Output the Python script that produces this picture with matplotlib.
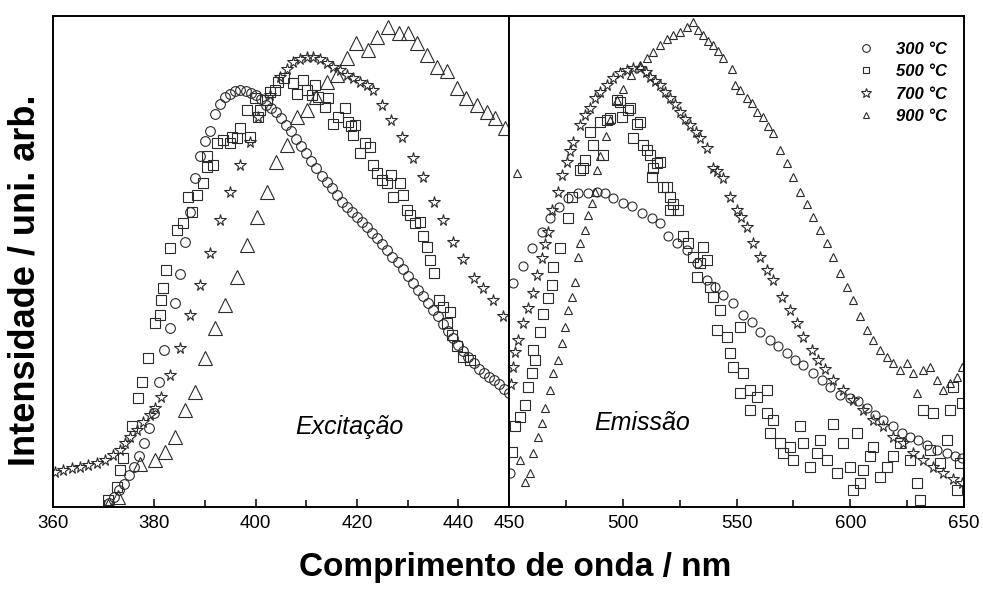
import numpy as np
import matplotlib
matplotlib.use("Agg")
import matplotlib.pyplot as plt
from matplotlib.lines import Line2D

plt.rcParams["font.family"] = ["Liberation Sans", "DejaVu Sans"]

temps = ["300 °C", "500 °C", "700 °C", "900 °C"]

# --- excitation spectra, 360-450 nm (intensity in arbitrary units, 0-100) ---
exc_300_nm = np.arange(371, 451)
exc_300_int = [0.9, 2.1, 3.5, 4.7, 6.5, 8.1, 10.3, 13.0, 16.0, 19.1,
               25.5, 32.0, 36.5, 41.5, 47.5, 54.0, 60.0, 67.0, 71.5, 74.5,
               76.5, 80.0, 82.0, 83.5, 84.2, 84.8, 85.0, 84.8, 84.3, 84.0,
               83.0, 81.8, 81.2, 80.5, 79.3, 77.8, 76.5, 75.0, 73.5, 72.0,
               70.5, 69.0, 67.5, 66.2, 65.0, 63.5, 62.2, 61.0, 60.0, 59.0,
               58.0, 57.0, 55.8, 54.8, 53.5, 52.3, 51.0, 49.8, 48.5, 47.0,
               45.7, 44.2, 43.0, 41.5, 40.2, 38.8, 37.2, 35.8, 34.4, 33.0,
               31.8, 30.5, 29.3, 28.2, 27.2, 26.5, 25.8, 25.0, 24.0, 23.2]

exc_500 = [(370.9, 1.4), (372.6, 4.1), (373.2, 7.5), (373.9, 9.9), (375.5, 16.4),
           (376.8, 22.1), (377.5, 25.5), (378.8, 30.3), (380.1, 37.4), (381.1, 39.1),
           (381.4, 42.2), (381.8, 44.5), (382.4, 48.3), (383.1, 52.7), (384.4, 56.4),
           (385.7, 57.8), (387.4, 60.1), (386.7, 63.2), (388.4, 63.5), (389.7, 65.9),
           (390.3, 69.3), (391.6, 69.7), (390.3, 71.4), (392.3, 74.1), (393.6, 74.7),
           (394.9, 74.1), (395.3, 75.4), (396.3, 75.1), (396.9, 77.1), (398.2, 80.9),
           (398.9, 75.4), (399.9, 83.2), (400.5, 79.5), (400.9, 80.9), (402.2, 82.9),
           (402.8, 84.6), (403.8, 84.9), (404.5, 86.6), (405.5, 87.3), (407.4, 86.3),
           (408.1, 84.2), (409.4, 87.0), (410.1, 84.9), (411.1, 83.9), (411.7, 85.9),
           (412.4, 83.6), (413.7, 81.5), (414.3, 83.2), (415.3, 78.1), (416.3, 79.5),
           (417.6, 81.2), (418.3, 78.5), (418.9, 77.5), (419.6, 77.8), (419.3, 75.8),
           (420.6, 72.0), (421.6, 74.1), (422.6, 73.4), (423.2, 69.7), (423.9, 68.0),
           (424.9, 66.6), (425.9, 65.9), (426.8, 67.6), (427.2, 63.2), (428.5, 65.9),
           (429.1, 63.5), (429.8, 60.5), (430.5, 59.5), (431.4, 57.8), (432.4, 58.1),
           (433.1, 55.1), (433.8, 53.0), (434.4, 50.3), (435.1, 47.6), (436.1, 42.2),
           (437.0, 40.8), (438.4, 39.8), (437.7, 37.4), (438.7, 35.0), (439.7, 32.7),
           (441.0, 30.6), (442.3, 29.9)]

exc_700 = [(360.4, 7.2), (362.0, 7.5), (363.7, 7.9), (365.3, 8.2), (367.0, 8.6),
           (368.6, 8.9), (370.3, 9.6), (371.9, 10.6), (373.2, 11.6), (374.2, 13.0),
           (375.2, 14.3), (376.5, 15.7), (377.8, 17.4), (379.1, 18.7), (380.1, 20.1),
           (381.4, 22.5), (383.1, 26.9), (385.1, 32.3), (387.0, 39.1), (389.0, 45.2),
           (391.0, 51.7), (393.0, 58.5), (394.9, 64.2), (396.9, 69.7), (398.9, 74.4),
           (400.5, 79.5), (402.8, 83.9), (404.8, 87.6), (406.1, 89.3), (407.4, 90.7),
           (408.8, 91.2), (410.1, 91.6), (411.4, 91.6), (412.7, 91.2), (414.0, 90.4),
           (415.3, 89.7), (416.6, 89.0), (418.0, 88.0), (419.3, 87.3), (420.6, 86.6),
           (421.9, 85.9), (423.2, 84.9), (424.9, 81.9), (426.8, 78.8), (428.8, 75.4),
           (431.1, 71.0), (433.1, 67.3), (435.1, 62.2), (437.0, 58.5), (439.0, 54.0),
           (441.0, 50.6), (443.0, 46.6), (444.9, 44.5), (446.9, 42.2), (448.9, 38.8)]

exc_900 = [(370.9, 0.2), (372.9, 2.1), (377.2, 8.8), (380.1, 9.6), (382.1, 11.3),
           (384.1, 14.3), (386.1, 19.8), (388.0, 23.5), (390.0, 30.3), (392.0, 36.4),
           (393.9, 41.1), (396.3, 46.9), (398.2, 53.4), (400.2, 59.1), (402.2, 64.2),
           (404.1, 70.3), (406.1, 73.7), (408.1, 79.5), (410.1, 80.9), (412.0, 83.6),
           (414.0, 86.6), (416.0, 88.0), (418.0, 91.4), (419.9, 94.4), (422.2, 93.1),
           (423.9, 95.8), (426.2, 97.8), (428.2, 96.5), (430.1, 96.5), (431.8, 94.4),
           (433.8, 92.1), (435.7, 89.7), (437.7, 88.7), (439.7, 85.3), (441.6, 83.2),
           (443.6, 81.9), (445.6, 80.5), (447.2, 79.2), (449.2, 77.1)]

# --- emission spectra, 450-650 nm ---
emi_300 = [(450.4, 6.9), (451.8, 45.6), (456.2, 49.1), (460.1, 52.7), (464.5, 56.0),
           (468.0, 58.9), (472.0, 61.0), (476.1, 62.9), (480.5, 63.9), (484.9, 64.0),
           (488.5, 64.2), (492.2, 63.9), (495.9, 62.9), (500.3, 62.0), (503.9, 61.2),
           (508.3, 59.8), (512.7, 58.8), (516.4, 57.8), (520.0, 55.1), (523.7, 53.7),
           (528.1, 52.3), (532.5, 49.6), (536.9, 46.2), (540.5, 44.9), (544.2, 43.2),
           (548.6, 41.5), (553.0, 39.1), (556.7, 37.7), (560.3, 35.7), (564.7, 34.0),
           (568.4, 32.7), (572.0, 31.3), (575.7, 29.9), (579.4, 28.9), (583.8, 27.2),
           (587.4, 25.9), (591.1, 24.5), (595.5, 22.8), (599.9, 22.1), (603.6, 21.5),
           (607.2, 20.1), (610.9, 18.7), (614.5, 17.7), (618.9, 16.4), (622.6, 15.0),
           (626.3, 14.3), (629.9, 13.6), (633.6, 12.6), (638.0, 11.6), (642.4, 10.9),
           (646.0, 10.3), (649.0, 9.9)]

emi_500 = [(451.2, 11.3), (452.6, 16.4), (454.8, 18.4), (457.0, 20.8), (458.5, 24.5),
           (460.0, 27.3), (461.4, 29.9), (460.7, 32.0), (463.6, 35.7), (465.1, 39.4),
           (467.3, 42.6), (468.8, 45.2), (469.5, 48.9), (472.5, 52.7), (476.1, 58.8),
           (477.6, 63.1), (481.2, 68.6), (482.7, 69.0), (483.4, 70.7), (485.6, 76.4),
           (487.1, 73.7), (490.0, 78.5), (491.4, 71.7), (492.9, 78.8), (494.4, 79.2),
           (497.3, 82.9), (498.8, 82.5), (499.5, 79.5), (502.5, 80.9), (503.2, 81.3),
           (504.6, 75.1), (506.1, 78.1), (507.6, 78.5), (509.0, 73.7), (510.5, 72.7),
           (512.0, 71.7), (512.7, 67.3), (513.4, 69.0), (514.9, 70.0), (516.4, 70.3),
           (517.8, 65.2), (519.3, 65.2), (520.8, 63.2), (522.2, 61.8), (524.4, 60.5),
           (520.8, 60.5), (526.6, 55.1), (528.8, 53.7), (531.0, 51.0), (533.9, 49.6),
           (535.4, 53.0), (536.9, 50.3), (532.5, 46.9), (538.4, 44.9), (539.8, 42.8),
           (542.7, 40.1), (541.3, 36.0), (545.7, 34.7), (547.1, 31.3), (551.5, 36.7),
           (548.6, 28.6), (553.0, 27.2), (551.5, 23.2), (556.0, 23.8), (559.0, 22.5),
           (563.3, 23.8), (556.0, 19.8), (563.3, 19.1), (566.2, 17.7), (564.7, 15.0),
           (569.1, 13.0), (570.6, 10.9), (573.5, 12.3), (575.0, 9.6), (577.9, 16.4),
           (579.4, 13.0), (582.3, 8.2), (585.2, 10.9), (586.7, 13.6), (589.6, 9.6),
           (592.6, 17.0), (594.0, 6.9), (597.0, 13.0), (599.9, 8.2), (601.4, 3.5),
           (602.8, 15.0), (604.3, 4.8), (605.7, 7.5), (608.7, 10.3), (610.1, 12.2),
           (613.1, 6.2), (616.0, 8.2), (618.9, 10.3), (621.9, 13.0), (626.3, 9.6),
           (629.2, 4.8), (630.7, 1.4), (632.1, 19.8), (635.0, 11.6), (636.5, 19.1),
           (639.5, 8.9), (642.4, 13.6), (643.8, 19.8), (645.3, 24.5), (646.8, 3.5),
           (648.2, 8.9), (649.0, 21.1)]

emi_700 = [(450.8, 25.0), (451.9, 28.5), (452.6, 31.5), (454.1, 34.0), (456.3, 37.5),
           (458.5, 40.5), (460.7, 43.6), (462.2, 47.3), (464.4, 50.7), (465.8, 53.5),
           (467.3, 56.0), (468.8, 60.5), (471.7, 64.2), (473.2, 67.6), (475.4, 70.3),
           (476.8, 72.5), (478.3, 74.4), (481.2, 77.8), (483.5, 79.8), (485.6, 81.3),
           (488.0, 83.2), (490.0, 84.6), (493.0, 86.0), (495.8, 87.4), (498.8, 88.4),
           (501.7, 89.0), (504.6, 89.4), (507.6, 89.4), (510.0, 88.6), (512.0, 87.6),
           (514.2, 86.7), (516.4, 85.9), (518.6, 84.6), (520.8, 83.3), (523.0, 82.0),
           (525.2, 80.5), (527.4, 79.1), (529.6, 77.8), (532.0, 76.4), (534.0, 75.2),
           (536.9, 73.1), (539.8, 69.0), (541.5, 68.5), (544.2, 67.0), (547.1, 63.2),
           (550.1, 60.5), (552.0, 59.0), (554.5, 57.1), (557.4, 53.7), (560.3, 51.0),
           (563.3, 48.3), (566.2, 46.2), (569.9, 42.8), (573.5, 40.1), (576.4, 37.4),
           (579.4, 34.7), (583.0, 32.0), (586.0, 29.9), (588.9, 28.2), (592.6, 25.9),
           (597.0, 23.8), (601.4, 21.8), (605.7, 19.8), (610.1, 17.7), (614.5, 16.4),
           (618.9, 14.3), (623.3, 13.0), (627.7, 10.9), (632.1, 9.6), (636.5, 8.2),
           (640.9, 6.9), (645.3, 5.8), (649.0, 4.8)]

emi_900 = [(453.4, 68.0), (454.8, 9.6), (457.0, 5.1), (459.2, 6.9), (460.7, 11.0),
           (462.9, 14.3), (464.4, 17.1), (465.8, 20.2), (468.0, 23.8), (469.5, 27.3),
           (471.7, 29.9), (473.2, 33.4), (474.6, 36.7), (476.1, 40.1), (477.6, 42.8),
           (479.0, 45.8), (480.5, 50.9), (481.2, 53.8), (483.4, 56.4), (484.9, 59.5),
           (486.4, 61.9), (487.8, 64.2), (488.5, 68.6), (490.0, 71.4), (492.5, 75.5),
           (494.4, 78.8), (497.3, 82.9), (500.3, 85.1), (503.5, 88.0), (507.6, 90.0),
           (510.5, 91.5), (513.4, 92.7), (516.4, 94.0), (519.3, 95.4), (522.2, 96.2),
           (525.2, 96.8), (528.1, 97.8), (531.0, 98.8), (533.2, 97.2), (535.4, 96.1),
           (537.6, 95.0), (539.8, 94.1), (542.0, 92.8), (544.2, 91.4), (547.9, 89.3),
           (549.3, 85.9), (551.5, 85.0), (554.5, 83.2), (556.6, 82.2), (558.9, 80.5),
           (561.8, 79.5), (564.0, 77.5), (566.2, 76.1), (569.1, 72.7), (572.0, 70.0),
           (575.0, 67.3), (577.9, 64.2), (580.8, 61.8), (583.8, 59.1), (586.7, 56.4),
           (589.6, 53.7), (592.6, 51.0), (595.5, 47.6), (598.4, 44.9), (601.4, 42.2),
           (604.3, 38.8), (607.2, 36.0), (610.1, 34.0), (613.1, 32.0), (616.0, 30.6),
           (618.9, 29.3), (621.9, 27.9), (624.8, 29.3), (627.7, 27.2), (629.2, 23.2),
           (632.1, 27.9), (635.0, 28.6), (638.0, 25.9), (640.9, 23.8), (643.8, 25.2),
           (646.8, 26.5), (649.0, 28.6)]

EDGE = "#2b2b2b"
markers = ["o", "s", "*", "^"]
exc_sizes = [7, 7, 8.5, 10]
emi_sizes = [6.5, 7, 8.5, 6]

fig = plt.figure(figsize=(9.83, 5.92), dpi=100)
ax1 = fig.add_axes([0.0539, 0.1436, 0.4639, 0.8294])
ax2 = fig.add_axes([0.5178, 0.1436, 0.4629, 0.8294])


def scatter(ax, x, y, marker, size):
    ax.plot(x, y, ls="none", marker=marker, ms=size, mfc="none",
            mec=EDGE, mew=0.8)


scatter(ax1, exc_300_nm, exc_300_int, markers[0], exc_sizes[0])
for i, pts in enumerate([exc_500, exc_700, exc_900], start=1):
    x, y = np.array(pts).T
    scatter(ax1, x, y, markers[i], exc_sizes[i])

for i, pts in enumerate([emi_300, emi_500, emi_700, emi_900]):
    x, y = np.array(pts).T
    scatter(ax2, x, y, markers[i], emi_sizes[i])

ax1.set_xlim(360, 450)
ax2.set_xlim(450, 650)
for ax in (ax1, ax2):
    ax.set_ylim(0, 100)
    ax.set_yticks([])
    for s in ax.spines.values():
        s.set_linewidth(1.4)
    ax.tick_params(axis="x", which="both", direction="in", labelsize=13.5,
                   width=1.1, pad=6)
    ax.tick_params(axis="x", which="major", length=6)
    ax.tick_params(axis="x", which="minor", length=5)

ax1.set_xticks([360, 380, 400, 420, 440, 450])
ax1.set_xticks([370, 390, 410, 430], minor=True)
ax2.set_xticks([450, 500, 550, 600, 650])
ax2.set_xticklabels(["", "500", "550", "600", "650"])
ax2.set_xticks([475, 525, 575, 625], minor=True)

ax1.text(418.4, 16.3, "Excitação", style="italic", fontsize=18,
         ha="center", va="center")
ax2.text(508.3, 17.1, "Emissão", style="italic", fontsize=18,
         ha="center", va="center")

handles = [Line2D([], [], ls="none", marker=m, ms=s, mfc="none", mec=EDGE, mew=0.8)
           for m, s in zip(markers, [5.5, 5, 7, 5])]
ax2.legend(handles, temps, loc="upper right", bbox_to_anchor=(0.98, 0.965),
           frameon=False, borderpad=0, handlelength=1.0, handletextpad=1.3,
           labelspacing=0.45, prop={"weight": "bold", "style": "italic", "size": 12})

fig.text(0.025, 0.527, "Intensidade / uni. arb.", rotation=90, ha="center",
         va="center", fontsize=26, fontweight="bold")
fig.text(0.524, 0.042, "Comprimento de onda / nm", ha="center", va="center",
         fontsize=24, fontweight="bold")

fig.savefig("out.png", dpi=100)
